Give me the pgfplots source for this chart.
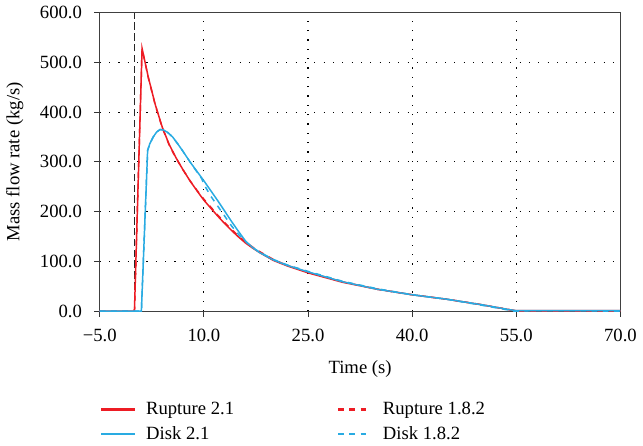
\documentclass[border=0pt]{standalone}
\usepackage{pgfplots}
\pgfplotsset{compat=1.18}
\usepackage{fontspec}
\setmainfont{Liberation Serif}
\definecolor{rupred}{RGB}{237,28,36}
\definecolor{diskblue}{RGB}{41,171,226}
\begin{document}
\begin{tikzpicture}
\begin{axis}[
  scale only axis, width=279pt, height=160pt,
  xmin=-5, xmax=70, ymin=0, ymax=600,
  xtick={-5,10,25,40,55,70},
  xticklabels={−5.0,10.0,25.0,40.0,55.0,70.0},
  ytick={0,100,200,300,400,500,600},
  yticklabels={0.0,100.0,200.0,300.0,400.0,500.0,600.0},
  tick align=outside, tick pos=left,
  major tick length=3pt,
  every tick/.style={black!80, line width=0.5pt},
  axis line style={black!75, line width=0.7pt},
  grid=major,
  major grid style={black, line width=0.6pt, dash pattern=on 0.6pt off 4.4pt},
  xlabel={Time (s)}, ylabel={Mass flow rate (kg/s)},
  tick label style={font=\fontsize{10}{12}\selectfont},
  label style={font=\fontsize{10}{12}\selectfont},
  yticklabel style={xshift=-3pt},
  xticklabel style={yshift=-3pt},
  xlabel style={yshift=-3.5pt},
  ylabel style={yshift=2pt},
  legend style={at={(0,-0.29)}, anchor=north west, draw=none, inner sep=0pt,
    font=\fontsize{10}{13}\selectfont, row sep=0.8pt,
    /tikz/every even column/.append style={column sep=53pt}},
  legend columns=2,
  legend cell align=left,
  legend image code/.code={\draw[#1, line width=1.5pt] (0pt,0pt) -- (18pt,0pt); \path (21.5pt,0pt);},
]
\addplot[black!85, dash pattern=on 4pt off 1.8pt, line width=0.7pt, forget plot] coordinates {(0,0) (0,600)};
% Rupture 2.1
\addplot[color=rupred, line width=0.8pt] coordinates {
(-5,0) (0,0) (1.1,528) (2,470) (3,415) (4,370) (5,335) (6,308) (7,284) (8,262) (9,242) (10,223)
(11,207) (12,191) (13,176) (14,162) (15,149) (16,137) (17,127) (18,118) (20,102) (22,91)
(25,77) (30,58) (35,44) (40,33) (45,24) (50,13) (54,3) (55,1) (60,1) (70,1)};
\addlegendentry{Rupture 2.1}
% Rupture 1.8.2
\addplot[color=rupred, dashed, line width=0.8pt] coordinates {
(-5,0) (0,0) (1.1,527) (2,469) (3,414) (4,369) (5,334) (6,307) (7,284) (8,262) (9,243) (10,225)
(11,209) (12,193) (13,178) (14,164) (15,151) (16,139) (17,129) (18,120) (20,104) (22,92)
(25,78) (30,59) (35,44) (40,33) (45,24) (50,13) (54,3) (55,0) (60,0) (70,0)};
\addlegendentry{Rupture 1.8.2}
% Disk 2.1
\addplot[color=diskblue, line width=0.8pt] coordinates {
(-5,0) (1.0,0) (1.9,323) (2.2,336) (2.7,350) (3.2,360) (3.7,365) (4.2,364) (4.8,359) (5.5,350) (6.3,335) (7,321)
(8,300) (9,281) (10,262) (11,242) (12,222) (13,201) (14,180) (15,160) (16,141) (17,128)
(18,118) (20,103) (22,92) (25,79) (30,59) (35,44) (40,33) (45,24) (50,13) (54,3) (55,1) (60,1) (70,1)};
\addlegendentry{Disk 2.1}
% Disk 1.8.2
\addplot[color=diskblue, dashed, line width=0.8pt] coordinates {
(-5,0) (1.0,0) (1.9,323) (2.2,336) (2.7,350) (3.2,360) (3.7,365) (4.2,364) (4.8,359) (5.5,350) (6.3,335) (7,321)
(8,300) (9,280) (9.7,266) (10,255) (11,231) (12,211) (13,191) (14,171) (15,154) (16,140) (17,128)
(18,119) (20,104) (22,93) (25,80) (30,60) (35,45) (40,33) (45,24) (50,12) (54,2) (55,-1) (58,-3) (62,-3) (66,-2) (70,-1)};
\addlegendentry{Disk 1.8.2}
\end{axis}
\path ([yshift=1.5pt]current axis.north);
\end{tikzpicture}
\end{document}
